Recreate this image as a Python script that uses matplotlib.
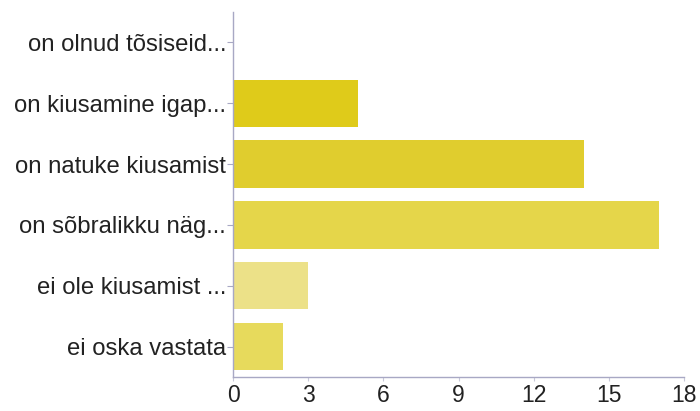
import matplotlib
matplotlib.use("Agg")
import matplotlib.pyplot as plt

categories = ["on olnud tõsiseid...", "on kiusamine igap...", "on natuke kiusamist",
              "on sõbralikku näg...", "ei ole kiusamist ...", "ei oska vastata"]
values = [0, 5, 14, 17, 3, 2]
colors = ["#dccb1c", "#dfcb1a", "#e0cd2e", "#e5d64a", "#ece188", "#e7da5c"]
xticks = [0, 3, 6, 9, 12, 15, 18]

plt.rcParams['font.family'] = ['Liberation Sans', 'DejaVu Sans']
fig = plt.figure(figsize=(7, 4.11), dpi=100)
ax = fig.add_axes([233/700, 1-377/411, (684-233)/700, (377-12)/411])

ypos = list(range(len(categories)))
ax.barh(ypos, values, height=0.78, color=colors)
ax.set_ylim(len(categories)-0.5, -0.5)
ax.set_xlim(0, 18)
ax.set_yticks(ypos)
ax.set_yticklabels(categories, fontsize=17.2, color="#222222")
ax.set_xticks(xticks)
ax.set_xticklabels([str(t) for t in xticks], fontsize=16.5, color="#222222")
for s in ["top", "right"]:
    ax.spines[s].set_visible(False)
for s in ["left", "bottom"]:
    ax.spines[s].set_color("#a8a8c4")
    ax.spines[s].set_linewidth(1)
ax.tick_params(axis='y', length=4, color="#a8a8c4", pad=1)
ax.tick_params(axis='x', length=3, color="#c8c8d8", pad=2)
fig.savefig("out.png", dpi=100)
